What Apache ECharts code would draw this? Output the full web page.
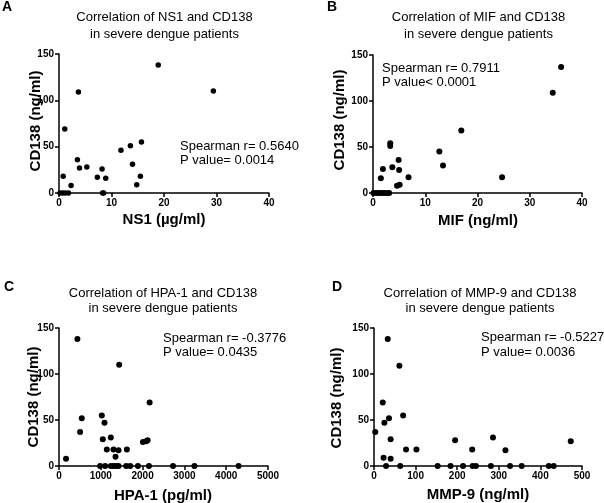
<!DOCTYPE html>
<html>
<head>
<meta charset="utf-8">
<script src="https://cdn.jsdelivr.net/npm/echarts@6/dist/echarts.min.js"></script>
<style>
html,body{margin:0;padding:0;background:#fff;}
#chart{width:604px;height:503px;}
</style>
</head>
<body>
<div id="chart"></div>
<script>
// ---- Data ----
var nsData = [[0.2,0],[0.7,0],[1.2,0],[1.8,0],[0.8,18],[1.1,69],[2.3,8],[3.7,109],[3.5,36],[3.9,27],[5.3,28],[7.3,17],[8.2,26],[8.3,0],[8.5,0],[8.9,16],[11.8,46],[13.6,51],[14.0,31],[14.8,9],[15.5,18],[15.7,55],[18.9,138],[29.4,110]];
var mifData = [[0.1,0],[0.6,0],[1.1,0],[1.6,0],[2.1,0],[2.6,0],[3.1,0],[1.5,16],[1.9,26],[3.3,54],[3.3,51],[3.7,28],[4.9,36],[5.0,25],[4.6,8],[5.1,9],[6.8,17],[12.7,45],[13.4,30],[16.9,68],[24.7,17],[34.4,109],[36.0,137]];
var hpaData = [[168,8],[504,37],[544,52],[440,138],[1024,55],[1088,47],[1048,29],[1240,31],[1144,18],[1304,18],[1352,10],[1424,17],[1624,18],[1440,110],[2168,69],[2008,26],[2088,27],[2120,28],[984,0],[1104,0],[1240,0],[1304,0],[1368,0],[1424,0],[1608,0],[1704,0],[1888,0],[2152,0],[2728,0],[3240,0],[4296,0]];
var mmpData = [[3,37],[33,138],[61,109],[21,69],[36,52],[25,47],[70,55],[40,29],[77,18],[102,18],[23,9],[40,8],[195,28],[236,18],[286,31],[316,17],[473,27],[29,0],[63,0],[153,0],[184,0],[214,0],[237,0],[245,0],[281,0],[327,0],[355,0],[420,0],[432,0]];

var yTicks = [0, 50, 100, 150];
var xMaxes = [40, 40, 5000, 500];
var xIntervals = [10, 10, 1000, 100];

var titles1 = ['Correlation of NS1 and CD138','Correlation of MIF and CD138','Correlation of HPA-1 and CD138','Correlation of MMP-9 and CD138'];
var titles2 = 'in severe dengue patients';
var xNames = ['NS1 (\u00b5g/ml)','MIF (ng/ml)','HPA-1 (pg/ml)','MMP-9 (ng/ml)'];
var yName = 'CD138 (ng/ml)';
var stat1 = ['Spearman r= 0.5640','Spearman r= 0.7911','Spearman r= -0.3776','Spearman r= -0.5227'];
var stat2 = ['P value= 0.0014','P value< 0.0001','P value= 0.0435','P value= 0.0036'];
var letters = ['A','B','C','D'];

// ---- Layout ----
var FONT = '"Liberation Sans", Arial, sans-serif';
var grids = [
  {left:59, top:54, width:210, height:139},
  {left:373, top:55, width:209, height:138},
  {left:59, top:328, width:209, height:138},
  {left:374, top:328, width:208, height:138}
];
var letterPos = [[7,7],[332,7],[9,287],[337,287]];
var titlePos = [[164.5,17,34],[478.5,17.5,34.5],[163,293,308.5],[480,293,308.5]];
var yNamePos = [[36,121],[340,120],[34,397],[337,398]];
var xNamePos = [[164,220],[478,221],[163,496],[478,495]];
var statPos = [[180,146,160],[382,68,82],[163,338,352],[481,337,352]];
var symSizes = [5.5,6,6,6];
var datasets = [nsData, mifData, hpaData, mmpData];

var option = {
  animation:false,
  backgroundColor:'#fff',
  grid: grids,
  xAxis: [], yAxis: [], series: [], graphic: []
};
function plain(v){ return String(v); }
for (var i = 0; i < 4; i++) {
  option.xAxis.push({
    gridIndex:i, type:'value', min:0, max:xMaxes[i], interval:xIntervals[i],
    axisLine:{show:true, onZero:false, lineStyle:{color:'#000', width:1.5}},
    axisTick:{show:true, inside:false, length:4, lineStyle:{color:'#000', width:1.5}},
    axisLabel:{color:'#000', fontFamily:FONT, fontWeight:'bold', fontSize:10, margin:5, formatter:plain},
    splitLine:{show:false}
  });
  option.yAxis.push({
    gridIndex:i, type:'value', min:0, max:150, interval:50,
    axisLine:{show:true, onZero:false, lineStyle:{color:'#000', width:1.5}},
    axisTick:{show:true, inside:false, length:4, lineStyle:{color:'#000', width:1.5}},
    axisLabel:{color:'#000', fontFamily:FONT, fontWeight:'bold', fontSize:10, margin:5, formatter:plain},
    splitLine:{show:false}
  });
  option.series.push({
    type:'scatter', xAxisIndex:i, yAxisIndex:i, data:datasets[i],
    symbol:'circle', symbolSize:symSizes[i], itemStyle:{color:'#000', opacity:1}, clip:false,
    emphasis:{disabled:true}
  });
  option.graphic.push(
    {type:'text', x:letterPos[i][0], y:letterPos[i][1], style:{text:letters[i], font:'bold 14px '+FONT, fill:'#000', align:'center', verticalAlign:'middle'}},
    {type:'text', x:titlePos[i][0], y:titlePos[i][1], style:{text:titles1[i], font:'13px '+FONT, fill:'#000', align:'center', verticalAlign:'middle'}},
    {type:'text', x:titlePos[i][0], y:titlePos[i][2], style:{text:titles2, font:'13px '+FONT, fill:'#000', align:'center', verticalAlign:'middle'}},
    {type:'text', x:yNamePos[i][0], y:yNamePos[i][1], rotation:Math.PI/2, style:{text:yName, font:'bold 15px '+FONT, fill:'#000', align:'center', verticalAlign:'middle'}},
    {type:'text', x:xNamePos[i][0], y:xNamePos[i][1], style:{text:xNames[i], font:'bold 15px '+FONT, fill:'#000', align:'center', verticalAlign:'middle'}},
    {type:'text', x:statPos[i][0], y:statPos[i][1], style:{text:stat1[i], font:'13px '+FONT, fill:'#000', align:'left', verticalAlign:'middle'}},
    {type:'text', x:statPos[i][0], y:statPos[i][2], style:{text:stat2[i], font:'13px '+FONT, fill:'#000', align:'left', verticalAlign:'middle'}}
  );
}
var chart = echarts.init(document.getElementById('chart'), null, {renderer:'canvas'});
chart.setOption(option);
</script>
</body>
</html>
